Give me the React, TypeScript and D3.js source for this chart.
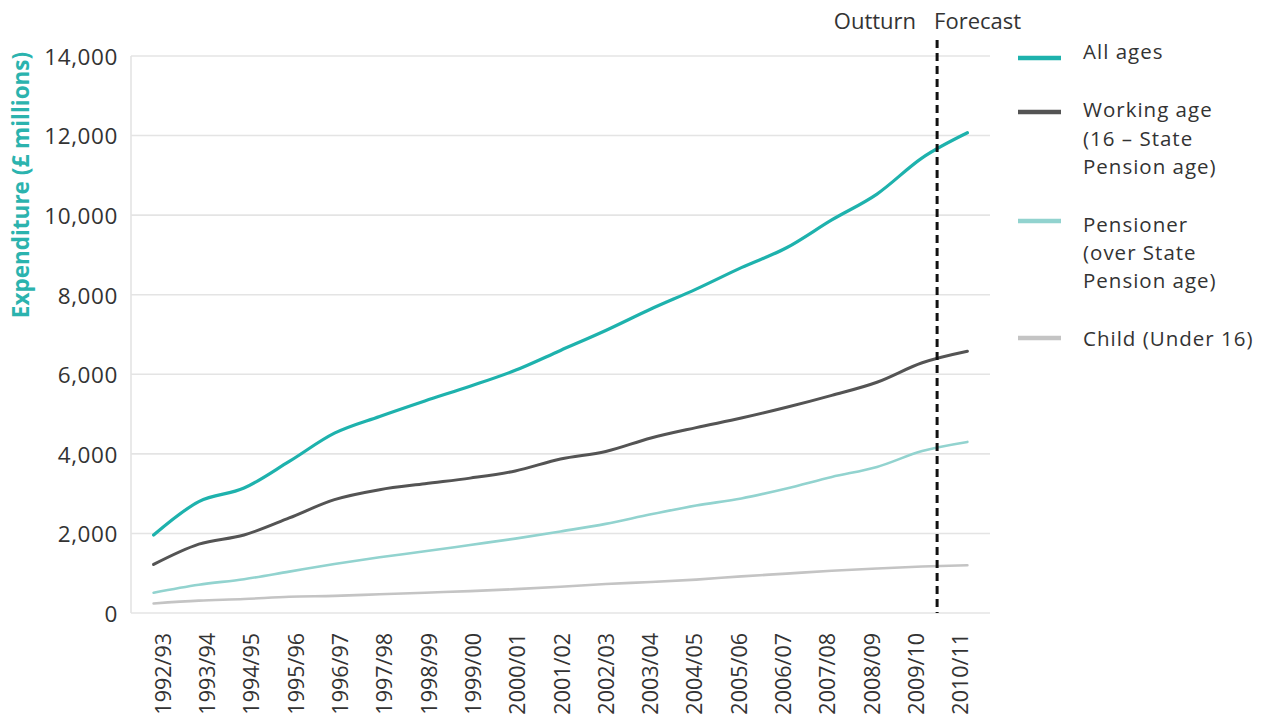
import React from "react";
import * as d3 from "d3";

const years = [
  "1992/93", "1993/94", "1994/95", "1995/96", "1996/97", "1997/98", "1998/99",
  "1999/00", "2000/01", "2001/02", "2002/03", "2003/04", "2004/05", "2005/06",
  "2006/07", "2007/08", "2008/09", "2009/10", "2010/11",
];
const allAges = [1960, 2800, 3140, 3810, 4520, 4940, 5330, 5700, 6100, 6600, 7100, 7640, 8140, 8680, 9180, 9880, 10530, 11440, 12070];
const workingAge = [1220, 1730, 1960, 2390, 2850, 3100, 3250, 3390, 3570, 3870, 4060, 4400, 4660, 4900, 5170, 5470, 5800, 6290, 6580];
const pensioner = [510, 710, 850, 1040, 1230, 1400, 1550, 1710, 1870, 2050, 2240, 2480, 2700, 2880, 3130, 3420, 3670, 4070, 4300];
const child = [240, 310, 350, 410, 430, 470, 510, 550, 600, 660, 730, 780, 840, 920, 990, 1060, 1120, 1170, 1200];
const yTicks = [0, 2000, 4000, 6000, 8000, 10000, 12000, 14000];

const series = [
  { name: ["All ages"], values: allAges, color: "#1eb2ad", width: 3.2 },
  { name: ["Working age", "(16 – State", "Pension age)"], values: workingAge, color: "#545454", width: 3 },
  { name: ["Pensioner", "(over State", "Pension age)"], values: pensioner, color: "#92d3cf", width: 2.6 },
  { name: ["Child (Under 16)"], values: child, color: "#c4c4c4", width: 2.6 },
];

const W = 1275;
const H = 727;
const left = 131;
const right = 990;
const top = 56;
const bottom = 613;
const font = "'Open Sans', 'Noto Sans', sans-serif";

export default function App() {
  const x = d3.scalePoint<string>().domain(years).range([left, right]).padding(0.5);
  const y = d3.scaleLinear().domain([0, 14000]).range([bottom, top]);
  const xl = d3
    .scalePoint<string>()
    .domain(years)
    .range([(x(years[0]) as number) + 9, (x(years[years.length - 1]) as number) - 7]);
  const line = d3
    .line<number>()
    .x((_, i) => x(years[i]) as number)
    .y((d) => y(d))
    .curve(d3.curveMonotoneX);
  const fmt = d3.format(",");
  const forecastX = (x(years[17]) as number) + x.step() * 0.33;
  const legendY = [58, 112, 221, 338];
  const legendTextY = [[52], [110, 139, 167], [225, 253, 281], [339]];

  return (
    <svg width={W} height={H} style={{ position: "absolute", left: 0, top: 0, background: "#fff" }}>
      {yTicks.map((t) => (
        <g key={t}>
          <line x1={left} x2={right} y1={y(t)} y2={y(t)} stroke="#e4e4e4" strokeWidth={1.6} />
          <text x={118} y={y(t) + 1} dy="0.35em" textAnchor="end" fontFamily={font} fontSize={22.5} letterSpacing={0.6} fill="#333">
            {fmt(t)}
          </text>
        </g>
      ))}
      <line x1={left} x2={left} y1={top} y2={bottom} stroke="#e4e4e4" strokeWidth={1.6} />
      {years.map((yr) => (
        <text
          key={yr}
          transform={`translate(${(xl(yr) as number) + 8},${633}) rotate(-90)`}
          textAnchor="end"
          fontFamily={font}
          fontSize={21.5}
          fill="#333"
        >
          {yr}
        </text>
      ))}
      <text
        transform={`translate(29,185) rotate(-90)`}
        textAnchor="middle"
        fontFamily={font}
        fontSize={22.5}
        fontWeight="bold"
        fill="#2bb3ae"
      >
        Expenditure (£ millions)
      </text>
      {series.map((s) => (
        <path key={s.name[0]} d={line(s.values) || ""} fill="none" stroke={s.color} strokeWidth={s.width} strokeLinejoin="round" strokeLinecap="round" />
      ))}
      <line x1={forecastX} x2={forecastX} y1={40} y2={bottom} stroke="#111" strokeWidth={3} strokeDasharray="8,5" />
      <text x={forecastX - 21} y={29} textAnchor="end" fontFamily={font} fontSize={22} fill="#333">
        Outturn
      </text>
      <text x={forecastX - 3} y={29} textAnchor="start" fontFamily={font} fontSize={22} fill="#333">
        Forecast
      </text>
      {series.map((s, i) => (
        <g key={"lg" + i}>
          <line x1={1018} x2={1061} y1={legendY[i]} y2={legendY[i]} stroke={s.color} strokeWidth={4.5} />
          {s.name.map((n, j) => (
            <text key={j} x={1083} y={legendTextY[i][j]} dy="0.35em" fontFamily={font} fontSize={20.5} letterSpacing={1} fill="#333">
              {n}
            </text>
          ))}
        </g>
      ))}
    </svg>
  );
}
